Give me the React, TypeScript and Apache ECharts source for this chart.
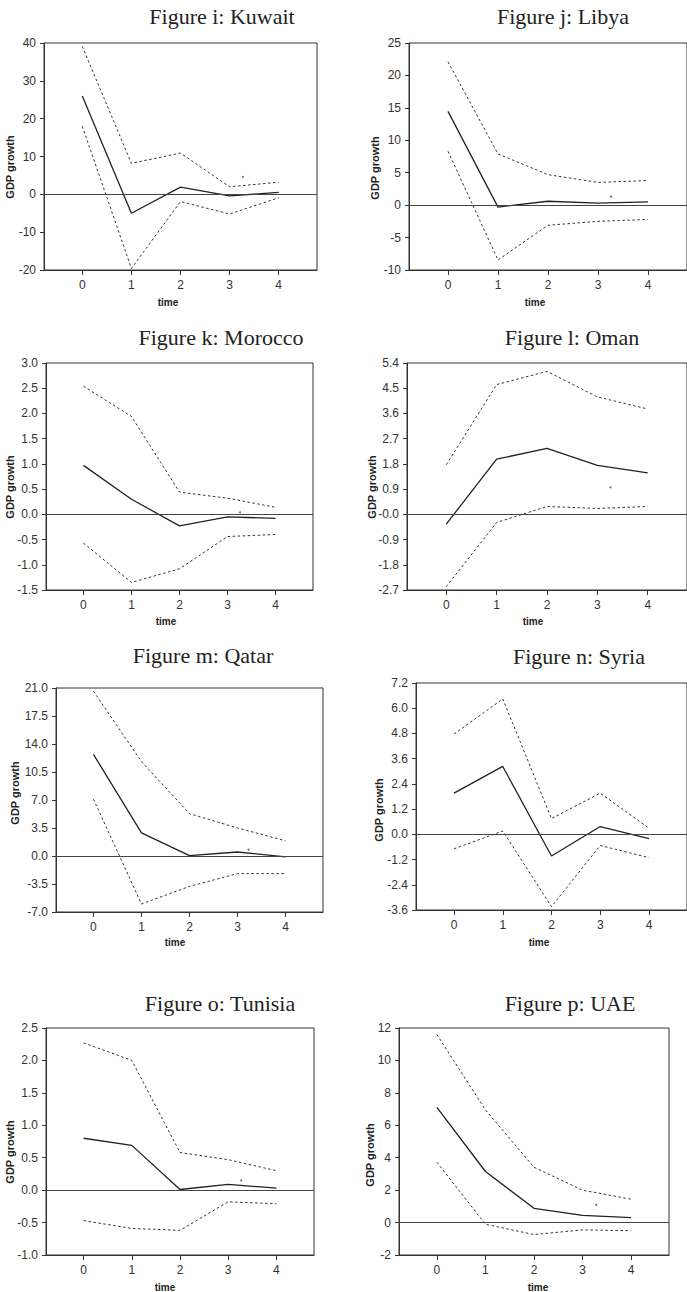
import React, { useEffect, useRef } from "react";
import * as echarts from "echarts";

// ---------------- DATA ----------------
const timeSteps = [0, 1, 2, 3, 4];
const countries = ["Kuwait", "Libya", "Morocco", "Oman", "Qatar", "Syria", "Tunisia", "UAE"];
const figureLetters = ["i", "j", "k", "l", "m", "n", "o", "p"];
const xAxisName = "time";
const yAxisName = "GDP growth";

const kuwaitIrf = [26, -5, 1.9, -0.4, 0.5];
const kuwaitUpper = [39.1, 8.2, 10.9, 2.0, 3.2];
const kuwaitLower = [18, -19.6, -1.9, -5.2, -0.9];

const libyaIrf = [14.45, -0.3, 0.6, 0.3, 0.5];
const libyaUpper = [22.1, 7.9, 4.7, 3.5, 3.8];
const libyaLower = [8.3, -8.45, -3.1, -2.5, -2.2];

const moroccoIrf = [0.97, 0.3, -0.23, -0.05, -0.08];
const moroccoUpper = [2.54, 1.94, 0.44, 0.32, 0.14];
const moroccoLower = [-0.57, -1.35, -1.08, -0.44, -0.4];

const omanIrf = [-0.35, 1.97, 2.35, 1.75, 1.48];
const omanUpper = [1.77, 4.63, 5.1, 4.19, 3.76];
const omanLower = [-2.58, -0.29, 0.28, 0.21, 0.28];

const qatarIrf = [12.7, 2.9, 0.05, 0.5, -0.1];
const qatarUpper = [20.6, 11.8, 5.3, 3.5, 1.9];
const qatarLower = [7.1, -6.0, -3.8, -2.2, -2.2];

const syriaIrf = [1.96, 3.23, -1.03, 0.37, -0.2];
const syriaUpper = [4.77, 6.44, 0.75, 1.96, 0.29];
const syriaLower = [-0.69, 0.16, -3.44, -0.53, -1.11];

const tunisiaIrf = [0.8, 0.69, 0.01, 0.09, 0.03];
const tunisiaUpper = [2.27, 2.0, 0.58, 0.47, 0.3];
const tunisiaLower = [-0.47, -0.59, -0.62, -0.18, -0.21];

const uaeIrf = [7.1, 3.15, 0.88, 0.45, 0.3];
const uaeUpper = [11.6, 6.95, 3.41, 2.0, 1.44];
const uaeLower = [3.72, -0.1, -0.74, -0.45, -0.5];

// small stray dots seen in the original panels [time, value]
const strayDots: (number[] | null)[] = [
  [3.27, 4.6],
  [3.26, 1.3],
  [3.26, 0.04],
  [3.26, 0.96],
  [3.23, 0.8],
  null,
  [3.27, 0.15],
  [3.28, 1.09],
];

// y-axis tick settings per panel
const yMins = [-20, -10, -1.5, -2.7, -7, -3.6, -1, -2];
const yMaxs = [40, 25, 3, 5.4, 21, 7.2, 2.5, 12];
const ySteps = [10, 5, 0.5, 0.9, 3.5, 1.2, 0.5, 2];
const yDecimals = [0, 0, 1, 1, 1, 1, 1, 0];
const zeroLabels = ["0", "0", "0.0", "-0.0", "0.0", "0.0", "0.0", "0"];

const irfs = [kuwaitIrf, libyaIrf, moroccoIrf, omanIrf, qatarIrf, syriaIrf, tunisiaIrf, uaeIrf];
const uppers = [kuwaitUpper, libyaUpper, moroccoUpper, omanUpper, qatarUpper, syriaUpper, tunisiaUpper, uaeUpper];
const lowers = [kuwaitLower, libyaLower, moroccoLower, omanLower, qatarLower, syriaLower, tunisiaLower, uaeLower];

// ---------------- LAYOUT ----------------
const LAYOUT = [
  { grid: { left: 44, top: 43, width: 273, height: 227 }, title: [222, 16], yName: [10, 167], xName: [168, 302] },
  { grid: { left: 409, top: 43, width: 279, height: 227 }, title: [563, 16], yName: [375, 168], xName: [535, 302] },
  { grid: { left: 46, top: 363, width: 267, height: 227 }, title: [221, 337], yName: [10, 487], xName: [166, 621] },
  { grid: { left: 407, top: 363, width: 281, height: 227 }, title: [572, 337], yName: [372, 487], xName: [533, 621] },
  { grid: { left: 56, top: 688, width: 267, height: 224 }, title: [203, 655], yName: [15, 793], xName: [175, 942] },
  { grid: { left: 416, top: 683, width: 272, height: 227 }, title: [579, 656], yName: [379, 810], xName: [539, 942] },
  { grid: { left: 46, top: 1028, width: 268, height: 227 }, title: [220, 1003], yName: [10, 1152], xName: [165, 1287] },
  { grid: { left: 399, top: 1028, width: 270, height: 227 }, title: [570, 1003], yName: [370, 1155], xName: [538, 1287] },
];

const SERIF = "'Liberation Serif', 'Times New Roman', serif";
const NARROW = "'Liberation Sans Narrow', 'Arial Narrow', 'Liberation Sans', Arial, sans-serif";
const SANS = "'Liberation Sans', Arial, sans-serif";
const INK = "#222";
const AXIS = "#333";

function buildOption() {
  const grids: any[] = [];
  const xAxes: any[] = [];
  const yAxes: any[] = [];
  const series: any[] = [];
  const graphics: any[] = [];

  countries.forEach((country, i) => {
    const L = LAYOUT[i];
    grids.push({
      ...L.grid,
      show: true,
      borderColor: AXIS,
      borderWidth: 1,
      backgroundColor: "transparent",
      containLabel: false,
    });
    xAxes.push({
      type: "value",
      gridIndex: i,
      min: -0.78,
      max: 4.78,
      splitLine: { show: false },
      axisLine: { show: true, onZero: false, lineStyle: { color: AXIS, width: 1 } },
      axisTick: { show: true, inside: false, length: 5, lineStyle: { color: AXIS }, customValues: timeSteps },
      axisLabel: {
        customValues: timeSteps,
        margin: 9,
        fontSize: 12,
        fontFamily: NARROW,
        color: AXIS,
        formatter: (v: number) => String(Math.round(v)),
      },
    });
    const dec = yDecimals[i];
    const zl = zeroLabels[i];
    yAxes.push({
      type: "value",
      gridIndex: i,
      min: yMins[i],
      max: yMaxs[i],
      interval: ySteps[i],
      splitLine: { show: false },
      axisLine: { show: true, onZero: false, lineStyle: { color: AXIS, width: 1 } },
      axisTick: { show: true, inside: false, length: 4, lineStyle: { color: AXIS } },
      axisLabel: {
        margin: 8,
        fontSize: 12,
        fontFamily: NARROW,
        color: AXIS,
        showMinLabel: true,
        showMaxLabel: true,
        formatter: (v: number) => (Math.abs(v) < 1e-9 ? zl : v.toFixed(dec)),
      },
    });

    const toPts = (arr: number[]) => timeSteps.map((t, k) => [t, arr[k]]);
    const dotted = { color: AXIS, width: 1, type: [2.5, 2.5] };

    series.push({
      name: `${country} upper`,
      type: "line",
      xAxisIndex: i,
      yAxisIndex: i,
      data: toPts(uppers[i]),
      symbol: "none",
      lineStyle: dotted,
      silent: true,
    });
    series.push({
      name: `${country} response`,
      type: "line",
      xAxisIndex: i,
      yAxisIndex: i,
      data: toPts(irfs[i]),
      symbol: "none",
      lineStyle: { color: INK, width: 1.3 },
      silent: true,
      markLine: {
        silent: true,
        symbol: "none",
        label: { show: false },
        lineStyle: { color: "#444", width: 1.2, type: "solid" },
        data: [{ yAxis: 0 }],
      },
    });
    series.push({
      name: `${country} lower`,
      type: "line",
      xAxisIndex: i,
      yAxisIndex: i,
      data: toPts(lowers[i]),
      symbol: "none",
      lineStyle: dotted,
      silent: true,
    });
    const dot = strayDots[i];
    if (dot) {
      series.push({
        name: `${country} dot`,
        type: "scatter",
        xAxisIndex: i,
        yAxisIndex: i,
        data: [dot],
        symbolSize: 2,
        itemStyle: { color: "#444" },
        silent: true,
      });
    }

    graphics.push({
      type: "text",
      x: L.title[0],
      y: L.title[1],
      style: {
        text: `Figure ${figureLetters[i]}: ${country}`,
        fill: INK,
        font: `22px ${SERIF}`,
        textAlign: "center",
        textVerticalAlign: "middle",
      },
    });
    graphics.push({
      type: "text",
      x: L.yName[0],
      y: L.yName[1],
      rotation: Math.PI / 2,
      style: {
        text: yAxisName,
        fill: INK,
        font: `bold 11px ${SANS}`,
        textAlign: "center",
        textVerticalAlign: "middle",
      },
    });
    graphics.push({
      type: "text",
      x: L.xName[0],
      y: L.xName[1],
      style: {
        text: xAxisName,
        fill: INK,
        font: `bold 10px ${NARROW}`,
        textAlign: "center",
        textVerticalAlign: "middle",
      },
    });
  });

  return {
    animation: false,
    backgroundColor: "#ffffff",
    grid: grids,
    xAxis: xAxes,
    yAxis: yAxes,
    series,
    graphic: graphics,
  };
}

export default function App() {
  const ref = useRef<HTMLDivElement>(null);
  useEffect(() => {
    if (!ref.current) return;
    const chart = echarts.init(ref.current, undefined, { renderer: "svg" });
    chart.setOption(buildOption() as any);
    return () => chart.dispose();
  }, []);
  return (
    <div
      ref={ref}
      style={{ position: "absolute", left: 0, top: 0, width: 687, height: 1292, background: "#fff" }}
    />
  );
}
